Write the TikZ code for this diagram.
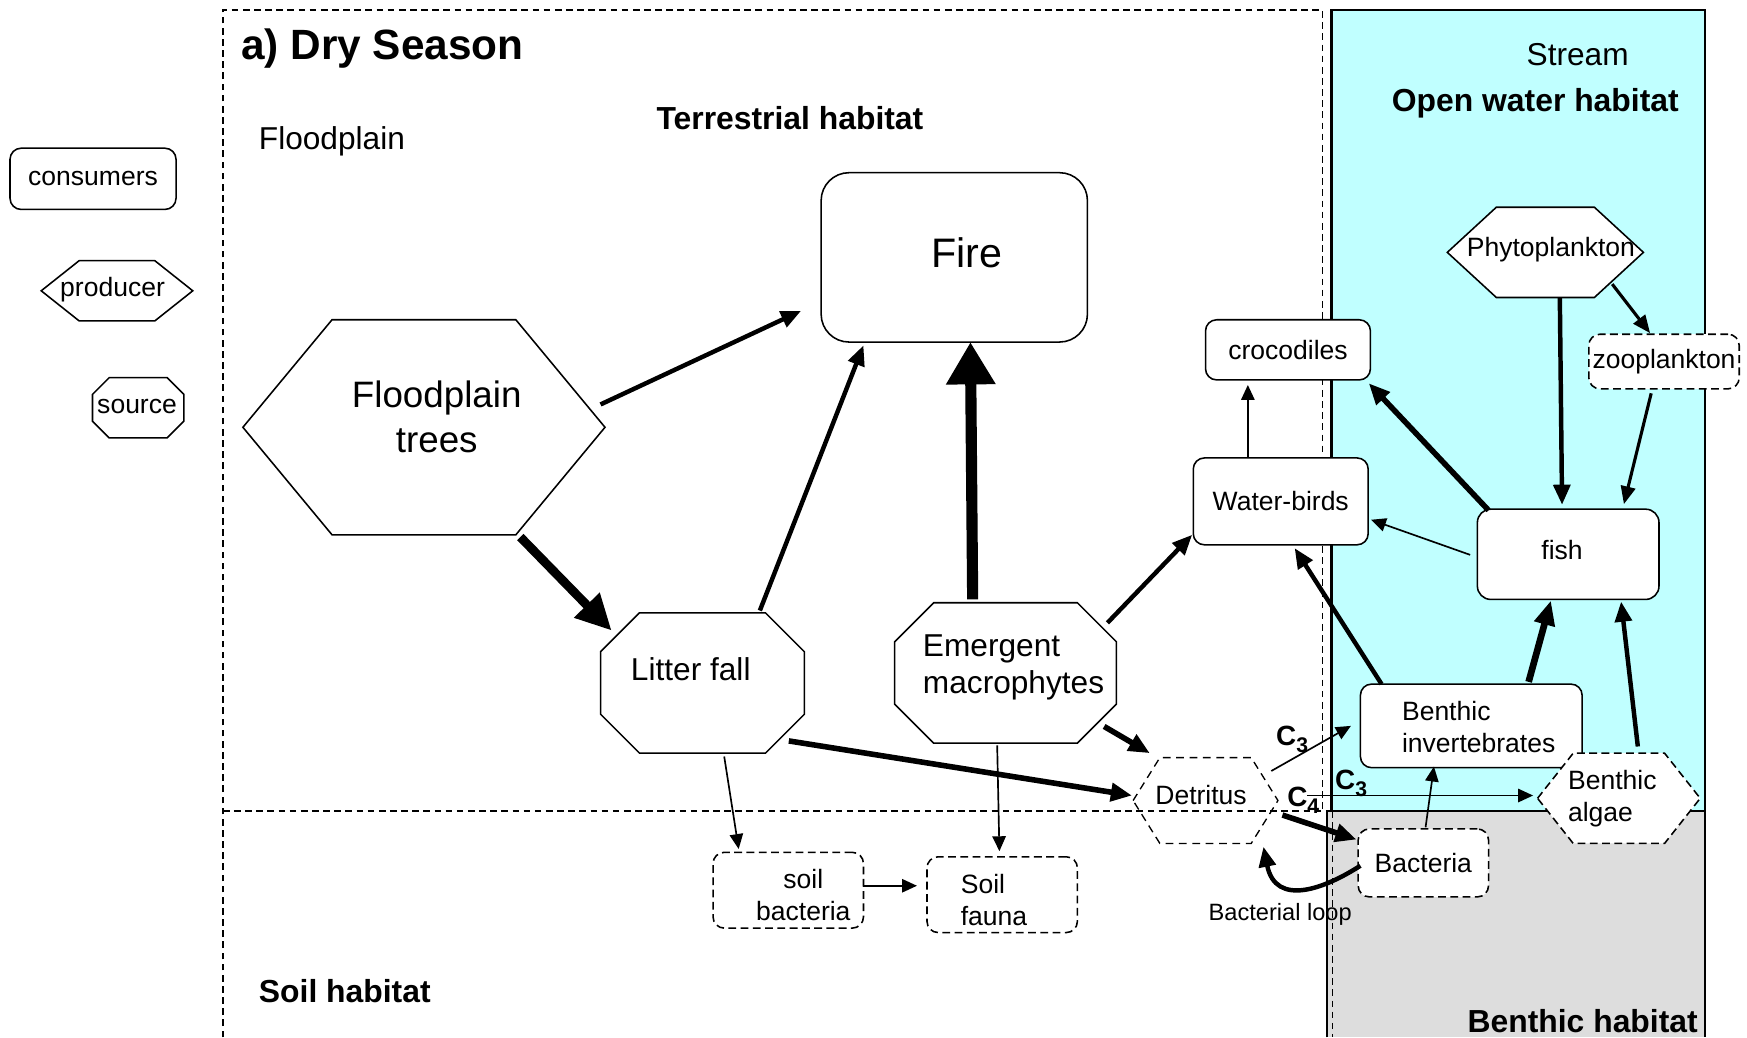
\documentclass[tikz,border=0pt]{standalone}
\usepackage{fontspec}
\setmainfont{Liberation Sans}
\usetikzlibrary{arrows.meta,calc}

\definecolor{cyanbg}{RGB}{192,255,255}
\definecolor{graybg}{RGB}{221,221,221}

\newcommand{\fzNode}{\fontsize{11.9pt}{14.5pt}\selectfont}
\newcommand{\fzBig}{\fontsize{14.2pt}{17pt}\selectfont}
\newcommand{\fzTree}{\fontsize{16.5pt}{20pt}\selectfont}
\newcommand{\fzFire}{\fontsize{18.5pt}{22pt}\selectfont}
\newcommand{\fzTitle}{\fontsize{19pt}{23pt}\selectfont\bfseries}
\newcommand{\fzHab}{\fontsize{14.3pt}{17pt}\selectfont\bfseries}
\newcommand{\fzLoop}{\fontsize{10.6pt}{13pt}\selectfont}
\newcommand{\fzC}{\fontsize{12.5pt}{15pt}\selectfont\bfseries}
\newcommand{\fzSub}{\fontsize{9.5pt}{11pt}\selectfont\bfseries}

\newcommand{\drawhex}[3][]{\draw[#1] (#2.west) -- ($(#2.north west)+(#3,0)$) -- ($(#2.north east)+(-#3,0)$) -- (#2.east) -- ($(#2.south east)+(-#3,0)$) -- ($(#2.south west)+(#3,0)$) -- cycle;}
\newcommand{\drawoct}[3][]{\draw[#1] ($(#2.north west)+(#3,0)$) -- ($(#2.north east)+(-#3,0)$) -- ($(#2.north east)+(0,#3)$) -- ($(#2.south east)+(0,-#3)$) -- ($(#2.south east)+(-#3,0)$) -- ($(#2.south west)+(#3,0)$) -- ($(#2.south west)+(0,-#3)$) -- ($(#2.north west)+(0,#3)$) -- cycle;}

\begin{document}
\begin{tikzpicture}[x=0.5pt,y=-0.5pt,
  ghost/.style={draw=none, rectangle, inner sep=0pt, outer sep=0pt},
  rbox/.style={draw, rectangle, line width=0.7pt, rounded corners=5pt, fill=white, inner sep=0pt, font=\fzNode},
  dashpat/.style={dash pattern=on 3.5pt off 2pt},
  outline/.style={line width=0.7pt, fill=white},
  doutline/.style={line width=0.7pt, fill=white, dash pattern=on 3.5pt off 2pt},
  dedge/.style={line width=0.6pt, dash pattern=on 3.5pt off 2.5pt},
  txt/.style={inner sep=0pt, font=\fzNode},
  lab/.style={inner sep=0pt},
  frameline/.style={line width=1pt},
  dline/.style={line width=0.6pt, dash pattern=on 3pt off 2pt},
  a1/.style={line width=0.75pt, -{Triangle[length=6.7pt,width=6pt]}},
  a2/.style={line width=1.4pt, -{Triangle[length=8pt,width=6.5pt]}},
  a3/.style={line width=2pt, -{Triangle[length=9pt,width=7.5pt]}},
  a4/.style={line width=2.5pt, -{Triangle[length=9.5pt,width=8pt]}},
  a5/.style={line width=3pt, -{Triangle[length=11pt,width=9pt]}},
  a6/.style={line width=4pt, -{Triangle[length=16pt,width=15pt]}},
  a7/.style={line width=5pt, -{Triangle[length=19pt,width=21pt]}}
]
\useasboundingbox (0,0) rectangle (1568,931);

% habitat backgrounds
\fill[cyanbg] (1195,9) rectangle (1530,728);
\fill[graybg] (1191,728) rectangle (1530,931);
\draw[frameline] (1195,728) -- (1195,9) -- (1530,9) -- (1530,931);
\draw[frameline] (1191,931) -- (1191,728) -- (1530,728);
\draw[dline] (200,931) -- (200,9) -- (1187,9) -- (1187,728);
\draw[dline] (200,728) -- (1191,728);
\draw[dline] (1196,728) -- (1196,931);

% habitat labels
\node[lab, font=\fzTitle, anchor=base west] (title) at (216,53) {a) Dry Season};
\node[lab, font=\fzHab, anchor=base] (terr) at (709,116) {Terrestrial habitat};
\node[lab, font=\fzBig, anchor=base west] (flood) at (232,134) {Floodplain};
\node[lab, font=\fzBig, anchor=base] (stream) at (1416,59) {Stream};
\node[lab, font=\fzHab, anchor=base] (openw) at (1378,100) {Open water habitat};
\node[lab, font=\fzHab, anchor=base west] (soilh) at (232,900) {Soil habitat};
\node[lab, font=\fzHab, anchor=base] (benh) at (1420.5,927) {Benthic habitat};

% legend
\node[rbox, minimum width=74.5pt, minimum height=27.5pt] (lcons) at (83.5,160.5) {consumers};
\node[ghost, minimum width=68pt, minimum height=27pt] (lprod) at (105,261) {};
\drawhex[outline]{lprod}{34}
\node[txt] (lprod-t) at (101,260) {producer};
\node[ghost, minimum width=41pt, minimum height=27pt] (lsrc) at (124,366) {};
\drawoct[outline]{lsrc}{15}
\node[txt] (lsrc-t) at (123,365) {source};

% fire
\node[rbox, rounded corners=12.5pt, minimum width=119.5pt, minimum height=76pt] (fire) at (856.5,231) {};
\node[txt, font=\fzFire] (fire-t) at (868,227) {Fire};

% floodplain trees
\node[ghost, minimum width=162.5pt, minimum height=96.5pt] (trees) at (380.5,383.5) {};
\drawhex[outline]{trees}{80}
\node[txt, font=\fzTree, align=center] (trees-t) at (392,374) {Floodplain\\trees};

% litter fall
\node[ghost, minimum width=91.5pt, minimum height=63pt] (litter) at (630.5,613) {};
\drawoct[outline]{litter}{35}
\node[txt, font=\fzBig] (litter-t) at (620,601) {Litter fall};

% emergent macrophytes
\node[ghost, minimum width=99.5pt, minimum height=63pt] (emerg) at (902.5,604) {};
\drawoct[outline]{emerg}{35}
\node[txt, font=\fzBig, align=left, anchor=west] (emerg-t) at (828,599) {Emergent\\macrophytes};

% detritus
\node[ghost, minimum width=65pt, minimum height=38.5pt] (detr) at (1082,718.5) {};
\drawhex[dedge]{detr}{24}
\node[txt] (detr-t) at (1078,714) {Detritus};

% consumers in the stream side
\node[rbox, minimum width=78.5pt, minimum height=39pt] (wb) at (1149.5,450) {Water-birds};
\node[rbox, minimum width=74pt, minimum height=27pt] (croc) at (1156,314) {crocodiles};

\node[ghost, minimum width=88pt, minimum height=40.5pt] (phyto) at (1387,226.5) {};
\drawhex[outline]{phyto}{44}
\node[txt] (phyto-t) at (1392,224) {Phytoplankton};

\node[rbox, dashpat, minimum width=67.5pt, minimum height=24.5pt] (zoo) at (1493.5,324.5) {zooplankton};

\node[rbox, rounded corners=6pt, minimum width=81.5pt, minimum height=40.5pt] (fish) at (1407.5,497.5) {};
\node[txt] (fish-t) at (1402,494) {fish};

\node[rbox, minimum width=99.5pt, minimum height=37.5pt] (inv) at (1320.5,651.5) {};
\node[txt, align=left, anchor=west] (inv-t) at (1258,652.5) {Benthic\\invertebrates};

\node[ghost, minimum width=73pt, minimum height=40.5pt] (algae) at (1453,716.5) {};
\drawhex[doutline]{algae}{32}
\node[txt, align=left, anchor=west] (algae-t) at (1407,716.5) {Benthic\\algae};

\node[rbox, dashpat, minimum width=58.5pt, minimum height=30.5pt] (bact) at (1277.5,774.5) {Bacteria};

% soil
\node[rbox, dashpat, minimum width=67.5pt, minimum height=34pt] (sbact) at (707.5,799) {};
\node[txt, align=center] (sbact-t) at (721,803.5) {soil\\bacteria};
\node[rbox, dashpat, minimum width=67.5pt, minimum height=34pt] (sfauna) at (899.5,803) {};
\node[txt, align=left, anchor=west] (sfauna-t) at (862,808) {Soil\\fauna};

% labels on flows
\node[txt, anchor=base west] (c3a) at (1145,669) {\fzC C\raisebox{-3pt}{\fzSub 3}};
\node[txt, anchor=base west] (c3b) at (1198,709) {\fzC C\raisebox{-3pt}{\fzSub 3}};
\node[txt, anchor=base west] (c4) at (1155,724) {\fzC C\raisebox{-3pt}{\fzSub 4}};
\node[txt, font=\fzLoop] (loop) at (1149,821) {Bacterial loop};

% flows
\draw[a3] ($(trees.center)+(158.5,-20.5)$) -- ($(fire.center)+(-137.5,48)$);
\draw[a6] ($(trees.center)+(86.5,98.5)$) -- ($(litter.center)+(-81.5,-47)$);
\draw[a3] ($(litter.center)+(51.5,-65)$) -- ($(fire.center)+(-81.5,79)$);
\draw[a7] ($(emerg.center)+(-29.5,-66)$) -- ($(fire.center)+(14.5,76)$);
\draw[a3] ($(emerg.center)+(91.5,-45)$) -- ($(wb.center)+(-79.5,30)$);
\draw[a4] ($(emerg.center)+(88.5,48)$) -- ($(detr.center)+(-50,-42.5)$);
\draw[a4] ($(litter.center)+(77.5,52)$) -- ($(detr.center)+(-66,-4.5)$);
\draw[a1] ($(litter.center)+(19.5,66)$) -- ($(sbact.center)+(-44.5,-37)$);
\draw[a1] ($(emerg.center)+(-7.5,65)$) -- ($(sfauna.center)+(-2.5,-39)$);
\draw[a1] ($(sbact.center)+(67.5,-4)$) -- ($(sfauna.center)+(-76.5,-8)$);
\draw[a1] ($(detr.center)+(59,-26.5)$) -- ($(inv.center)+(-108,0)$);
\draw[a1] ($(detr.center)+(91,-4.5)$) -- ($(algae.center)+(-77,-2.5)$);
\draw[a4] ($(detr.center)+(69,13)$) -- ($(bact.center)+(-60,-21)$);
\draw[a3] ($(bact.center)+(-56.5,2.5)$) .. controls ($(bact.center)+(-87.5,22.5)$) and ($(detr.center)+(63,96.5)$) .. ($(detr.center)+(52,41.5)$);
\draw[a1] ($(bact.center)+(2,-32)$) -- ($(inv.center)+(-33.5,36.5)$);
\draw[a3] ($(inv.center)+(-80.5,-37.5)$) -- ($(wb.center)+(12.5,42)$);
\draw[a5] ($(inv.center)+(51.5,-39.5)$) -- ($(fish.center)+(-15.5,41.5)$);
\draw[a3] ($(algae.center)+(17,-46.5)$) -- ($(fish.center)+(47.5,42.5)$);
\draw[a1] ($(fish.center)+(-88,0.5)$) -- ($(wb.center)+(81,16.5)$);
\draw[a4] ($(fish.center)+(-71.5,-39.5)$) -- ($(croc.center)+(72.5,30)$);
\draw[a1] ($(wb.center)+(-29.5,-40)$) -- ($(croc.center)+(-36,31.5)$);
\draw[a3] ($(phyto.center)+(13,41)$) -- ($(fish.center)+(-5.5,-44.5)$);
\draw[a2] ($(phyto.center)+(60,28.5)$) -- ($(zoo.center)+(-12.5,-25.5)$);
\draw[a2] ($(zoo.center)+(-11.5,28.5)$) -- ($(fish.center)+(50,-45)$);
\end{tikzpicture}
\end{document}
